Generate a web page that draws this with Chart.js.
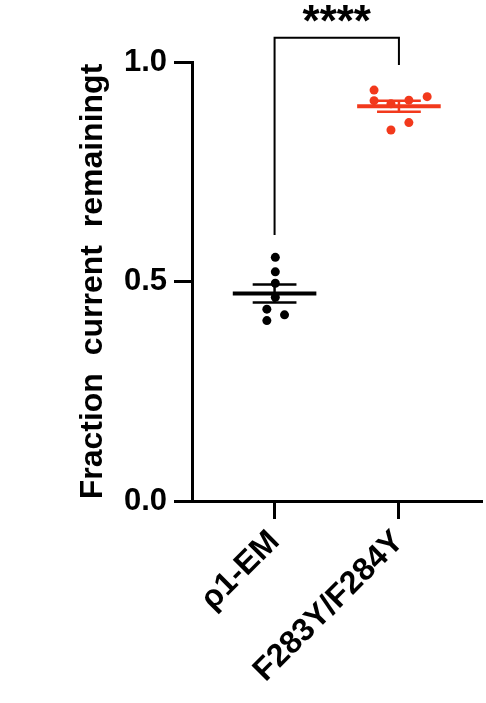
<!DOCTYPE html>
<html>
<head>
<meta charset="utf-8">
<script src="https://cdn.jsdelivr.net/npm/chart.js@4.4.0/dist/chart.umd.min.js"></script>
<style>
html,body{margin:0;padding:0;background:#fff;}
#wrap{width:486px;height:703px;}
</style>
</head>
<body>
<div id="wrap"><canvas id="c" width="486" height="703"></canvas></div>
<script>
const categories = ['ρ1-EM', 'F283Y/F284Y'];
const p1EMValues = [0.555, 0.522, 0.496, 0.464, 0.437, 0.424, 0.411];
const p1EMJitter = [0.006, 0.006, 0.006, 0.006, -0.062, 0.08, -0.062];
const mutantValues = [0.936, 0.912, 0.905, 0.913, 0.921, 0.862, 0.845];
const mutantJitter = [-0.2, -0.2, -0.064, 0.08, 0.227, 0.08, -0.064];
const yTicks = [0, 0.5, 1.0];
const yTitle = 'Fraction  current  remainingt';
const sigLabel = '****';

const BLACK = '#000000';
const RED = '#f2391c';
const FONT = '"Liberation Sans", Arial, sans-serif';

function mean(a){return a.reduce((s,v)=>s+v,0)/a.length;}
function sem(a){const m=mean(a);const v=a.reduce((s,x)=>s+(x-m)*(x-m),0)/(a.length-1);return Math.sqrt(v/a.length);}

function pts(vals, jit, idx){return vals.map((v,i)=>({x: idx + jit[i], y: v}));}

function summary(vals, idx, color){
  const m = mean(vals), s = sem(vals);
  return [
    {type:'line', data:[{x:idx-0.336,y:m},{x:idx+0.336,y:m}], borderColor:color, borderWidth:4, pointRadius:0, clip:false},
    {type:'line', data:[{x:idx-0.176,y:m+s},{x:idx+0.176,y:m+s}], borderColor:color, borderWidth:2.5, pointRadius:0, clip:false},
    {type:'line', data:[{x:idx-0.176,y:m-s},{x:idx+0.176,y:m-s}], borderColor:color, borderWidth:2.5, pointRadius:0, clip:false},
    {type:'line', data:[{x:idx,y:m-s},{x:idx,y:m+s}], borderColor:color, borderWidth:2.5, pointRadius:0, clip:false}
  ];
}

const bracketPlugin = {
  id:'bracket',
  afterDatasetsDraw(chart){
    const {ctx, scales:{x,y}} = chart;
    const x0 = x.getPixelForValue(0), x1 = x.getPixelForValue(1);
    const yTop = y.getPixelForValue(1.055);
    const yL = y.getPixelForValue(0.606);
    const yR = y.getPixelForValue(0.993);
    ctx.save();
    ctx.strokeStyle = BLACK;
    ctx.lineWidth = 2;
    ctx.beginPath();
    ctx.moveTo(x0, yL);
    ctx.lineTo(x0, yTop);
    ctx.lineTo(x1, yTop);
    ctx.lineTo(x1, yR);
    ctx.stroke();
    ctx.fillStyle = BLACK;
    ctx.font = 'bold 44px ' + FONT;
    ctx.textAlign = 'center';
    ctx.textBaseline = 'alphabetic';
    ctx.fillText(sigLabel, (x0+x1)/2, yTop - 2);
    ctx.restore();
  }
};

const datasets = [
  ...summary(p1EMValues, 0, BLACK),
  ...summary(mutantValues, 1, RED),
  {type:'scatter', data: pts(p1EMValues, p1EMJitter, 0), backgroundColor:BLACK, borderColor:BLACK, pointRadius:4.5, borderWidth:0, clip:false},
  {type:'scatter', data: pts(mutantValues, mutantJitter, 1), backgroundColor:RED, borderColor:RED, pointRadius:4.5, borderWidth:0, clip:false}
];

new Chart(document.getElementById('c'), {
  type:'scatter',
  data:{datasets},
  options:{
    responsive:false,
    animation:false,
    devicePixelRatio:1,
    layout:{padding:{top:62, left:74, right:3, bottom:0}},
    plugins:{legend:{display:false}, tooltip:{enabled:false}},
    scales:{
      x:{
        type:'linear', min:-0.664, max:1.664,
        afterBuildTicks(s){ s.ticks = [{value:0},{value:1}]; },
        afterFit(s){ s.height = 202; },
        grid:{drawOnChartArea:false, drawTicks:true, tickLength:18, color:BLACK, lineWidth:3},
        border:{display:true, color:BLACK, width:3},
        ticks:{
          autoSkip:false, minRotation:45, maxRotation:45, padding:4,
          color:BLACK,
          font:{family:FONT, size:32, weight:'bold'},
          callback:(v)=>categories[v] ?? ''
        }
      },
      y:{
        type:'linear', min:0, max:1,
        afterBuildTicks(s){ s.ticks = yTicks.map(v=>({value:v})); },
        afterFit(s){ s.width = 118; },
        grid:{drawOnChartArea:false, drawTicks:true, tickLength:18, color:BLACK, lineWidth:3},
        border:{display:true, color:BLACK, width:3},
        ticks:{
          padding:7, color:BLACK,
          font:{family:FONT, size:31, weight:'bold'},
          callback:(v)=>v.toFixed(1)
        },
        title:{
          display:true, text:yTitle, color:BLACK, padding:0,
          font:{family:FONT, size:32, weight:'bold'}
        }
      }
    }
  },
  plugins:[bracketPlugin]
});
</script>
</body>
</html>
